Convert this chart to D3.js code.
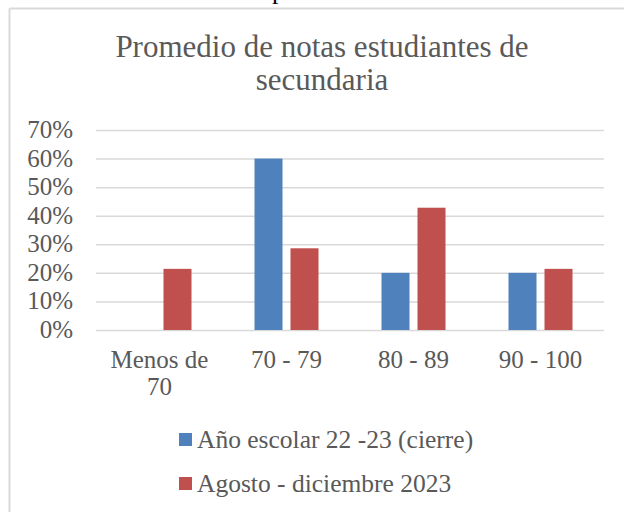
<!DOCTYPE html>
<meta charset="utf-8">
<style>
body { margin: 0; background: #fff; }
svg text { font-family: "Liberation Serif", "Times New Roman", serif; fill: #595959; }
.axis text { font-size: 25px; }
.axis .domain { display: none; }
.grid line { stroke: #d9d9d9; stroke-width: 1.5; }
</style>
<svg width="624" height="512"></svg>
<script src="https://d3js.org/d3.v7.min.js"></script>
<script>

var categories = ["Menos de 70", "70 - 79", "80 - 89", "90 - 100"];
var seriesNames = ["Año escolar 22 -23 (cierre)", "Agosto - diciembre 2023"];
var anoEscolar = [0, 0.60, 0.20, 0.20];
var agostoDic = [0.214, 0.286, 0.428, 0.214];
var yTicks = [0, 0.1, 0.2, 0.3, 0.4, 0.5, 0.6, 0.7];
var titleLines = ["Promedio de notas estudiantes de", "secundaria"];

var colors = ["#4f81bd", "#c0504d"];

var svg = d3.select("svg");

// frame of the chart object (only left and top edges show)
svg.append("line").attr("x1", 9.5).attr("y1", 8.5).attr("x2", 9.5).attr("y2", 512)
    .attr("stroke", "#d9d9d9").attr("stroke-width", 2);
svg.append("line").attr("x1", 9.5).attr("y1", 8.5).attr("x2", 624).attr("y2", 8.5)
    .attr("stroke", "#d9d9d9").attr("stroke-width", 2);

// bit of document text above the chart
svg.append("text").attr("x", 272).attr("y", -1).style("fill", "#000")
    .style("font-size", "26px").text("p");

var plotLeft = 96, plotRight = 604, plotTop = 130, plotBottom = 330;

var x0 = d3.scaleBand().domain(categories).range([plotLeft, plotRight])
    .paddingInner(0.496).paddingOuter(0.248);
var x1 = d3.scaleBand().domain(seriesNames).range([0, x0.bandwidth()])
    .paddingInner(0.222);
var y = d3.scaleLinear().domain([0, 0.7]).range([plotBottom, plotTop]);

svg.append("g")
    .attr("class", "axis grid")
    .attr("transform", "translate(" + plotLeft + ",0)")
    .call(d3.axisLeft(y).tickValues(yTicks).tickFormat(d3.format(".0%"))
        .tickSize(-(plotRight - plotLeft)).tickPadding(23))
    .selectAll("text").attr("dy", "0.3em");

var rows = categories.map(function(c, i) {
    return { cat: c, values: [anoEscolar[i], agostoDic[i]] };
});

var groups = svg.selectAll(".group").data(rows).enter().append("g")
    .attr("class", "group")
    .attr("transform", function(d) { return "translate(" + x0(d.cat) + ",0)"; });

groups.selectAll("rect")
    .data(function(d) { return d.values.map(function(v, j) { return { name: seriesNames[j], v: v, j: j }; }); })
    .enter().append("rect")
    .attr("x", function(d) { return x1(d.name); })
    .attr("y", function(d) { return y(d.v); })
    .attr("width", x1.bandwidth())
    .attr("height", function(d) { return plotBottom - y(d.v); })
    .attr("fill", function(d) { return colors[d.j]; });

var xAxis = svg.append("g")
    .attr("class", "axis")
    .attr("transform", "translate(0," + plotBottom + ")")
    .call(d3.axisBottom(x0).tickSize(0).tickPadding(20));
xAxis.selectAll("text").call(wrap, 112);

function wrap(text, width) {
    text.each(function() {
        var t = d3.select(this),
            words = t.text().split(/\s+/),
            line = [],
            lineNo = 0,
            yy = t.attr("y"),
            tspan = t.text(null).append("tspan").attr("x", 0).attr("y", yy).attr("dy", "0.71em");
        words.forEach(function(w) {
            line.push(w);
            tspan.text(line.join(" "));
            if (tspan.node().getComputedTextLength() > width && line.length > 1) {
                line.pop();
                tspan.text(line.join(" "));
                line = [w];
                lineNo++;
                tspan = t.append("tspan").attr("x", 0).attr("y", yy)
                    .attr("dy", (0.71 + lineNo * 1.1) + "em").text(w);
            }
        });
    });
}

svg.append("text")
    .attr("text-anchor", "middle")
    .style("font-size", "31px")
    .selectAll("tspan").data(titleLines).enter().append("tspan")
    .attr("x", 322)
    .attr("y", function(d, i) { return 57 + i * 33; })
    .text(function(d) { return d; });

var legend = svg.selectAll(".legend").data(seriesNames).enter().append("g")
    .attr("class", "legend")
    .attr("transform", function(d, i) { return "translate(179," + (433 + i * 44) + ")"; });
legend.append("rect").attr("width", 13).attr("height", 13)
    .attr("fill", function(d, i) { return colors[i]; });
legend.append("text").attr("x", 18).attr("y", 15)
    .style("font-size", "25.5px").text(function(d) { return d; });

</script>
